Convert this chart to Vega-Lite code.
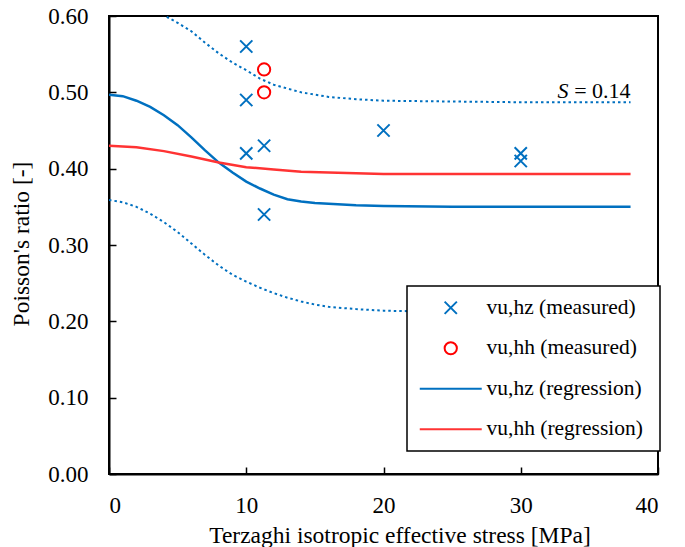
{
  "$schema": "https://vega.github.io/schema/vega-lite/v6.json",
  "width": 549,
  "height": 458,
  "autosize": {"type": "none"},
  "padding": {"left": 109, "top": 16, "right": 27, "bottom": 73},
  "background": "white",
  "config": {
    "view": {"stroke": "black", "strokeWidth": 2},
    "font": "Times New Roman, Liberation Serif, DejaVu Serif, serif",
    "axis": {
      "labelFont": "Times New Roman, Liberation Serif, DejaVu Serif, serif",
      "titleFont": "Times New Roman, Liberation Serif, DejaVu Serif, serif",
      "labelColor": "black",
      "titleColor": "black",
      "labelFontSize": 23,
      "titleFontSize": 23.5,
      "titleFontWeight": "normal",
      "domainColor": "black",
      "domainWidth": 2,
      "tickColor": "black",
      "tickWidth": 1.5,
      "tickSize": -7,
      "grid": false
    },
    "legend": {
      "orient": "none",
      "legendX": 298,
      "legendY": 270,
      "fillColor": "white",
      "strokeColor": "black",
      "strokeWidth": 1.5,
      "padding": 11,
      "rowPadding": 17.5,
      "labelFont": "Times New Roman, Liberation Serif, DejaVu Serif, serif",
      "labelFontSize": 21.5,
      "labelColor": "black",
      "labelLimit": 400,
      "symbolSize": 150,
      "symbolStrokeWidth": 2,
      "symbolOffset": 22,
      "labelOffset": 25
    }
  },
  "datasets": {
    "points": [
      {"x": 10.0, "y": 0.56, "series": "vu,hz (measured)"},
      {"x": 10.0, "y": 0.49, "series": "vu,hz (measured)"},
      {"x": 10.0, "y": 0.42, "series": "vu,hz (measured)"},
      {"x": 11.3, "y": 0.43, "series": "vu,hz (measured)"},
      {"x": 11.3, "y": 0.34, "series": "vu,hz (measured)"},
      {"x": 20.0, "y": 0.45, "series": "vu,hz (measured)"},
      {"x": 30.0, "y": 0.42, "series": "vu,hz (measured)"},
      {"x": 30.0, "y": 0.41, "series": "vu,hz (measured)"},
      {"x": 11.3, "y": 0.53, "series": "vu,hh  (measured)"},
      {"x": 11.3, "y": 0.50, "series": "vu,hh  (measured)"}
    ],
    "regression": [
      {"x": 0, "y": 0.497, "series": "vu,hz  (regression)"},
      {"x": 1, "y": 0.495, "series": "vu,hz  (regression)"},
      {"x": 2, "y": 0.489, "series": "vu,hz  (regression)"},
      {"x": 3, "y": 0.481, "series": "vu,hz  (regression)"},
      {"x": 4, "y": 0.470, "series": "vu,hz  (regression)"},
      {"x": 5, "y": 0.457, "series": "vu,hz  (regression)"},
      {"x": 6, "y": 0.441, "series": "vu,hz  (regression)"},
      {"x": 7, "y": 0.424, "series": "vu,hz  (regression)"},
      {"x": 8, "y": 0.408, "series": "vu,hz  (regression)"},
      {"x": 9, "y": 0.395, "series": "vu,hz  (regression)"},
      {"x": 10, "y": 0.383, "series": "vu,hz  (regression)"},
      {"x": 11, "y": 0.374, "series": "vu,hz  (regression)"},
      {"x": 12, "y": 0.366, "series": "vu,hz  (regression)"},
      {"x": 13, "y": 0.360, "series": "vu,hz  (regression)"},
      {"x": 14, "y": 0.357, "series": "vu,hz  (regression)"},
      {"x": 15, "y": 0.355, "series": "vu,hz  (regression)"},
      {"x": 16, "y": 0.354, "series": "vu,hz  (regression)"},
      {"x": 18, "y": 0.352, "series": "vu,hz  (regression)"},
      {"x": 20, "y": 0.351, "series": "vu,hz  (regression)"},
      {"x": 25, "y": 0.350, "series": "vu,hz  (regression)"},
      {"x": 30, "y": 0.350, "series": "vu,hz  (regression)"},
      {"x": 38, "y": 0.350, "series": "vu,hz  (regression)"},
      {"x": 0, "y": 0.430, "series": "vu,hh  (regression)"},
      {"x": 2, "y": 0.428, "series": "vu,hh  (regression)"},
      {"x": 4, "y": 0.423, "series": "vu,hh  (regression)"},
      {"x": 6, "y": 0.416, "series": "vu,hh  (regression)"},
      {"x": 8, "y": 0.408, "series": "vu,hh  (regression)"},
      {"x": 10, "y": 0.402, "series": "vu,hh  (regression)"},
      {"x": 12, "y": 0.399, "series": "vu,hh  (regression)"},
      {"x": 14, "y": 0.396, "series": "vu,hh  (regression)"},
      {"x": 16, "y": 0.395, "series": "vu,hh  (regression)"},
      {"x": 18, "y": 0.394, "series": "vu,hh  (regression)"},
      {"x": 20, "y": 0.393, "series": "vu,hh  (regression)"},
      {"x": 25, "y": 0.393, "series": "vu,hh  (regression)"},
      {"x": 38, "y": 0.393, "series": "vu,hh  (regression)"}
    ],
    "bands": [
      {"x": 0, "y": 0.637, "band": "upper"},
      {"x": 2, "y": 0.628, "band": "upper"},
      {"x": 3, "y": 0.617, "band": "upper"},
      {"x": 4, "y": 0.601, "band": "upper"},
      {"x": 5, "y": 0.591, "band": "upper"},
      {"x": 6, "y": 0.580, "band": "upper"},
      {"x": 7, "y": 0.565, "band": "upper"},
      {"x": 8, "y": 0.551, "band": "upper"},
      {"x": 9, "y": 0.539, "band": "upper"},
      {"x": 10, "y": 0.529, "band": "upper"},
      {"x": 11, "y": 0.518, "band": "upper"},
      {"x": 12, "y": 0.510, "band": "upper"},
      {"x": 13, "y": 0.505, "band": "upper"},
      {"x": 14, "y": 0.500, "band": "upper"},
      {"x": 15, "y": 0.497, "band": "upper"},
      {"x": 16, "y": 0.494, "band": "upper"},
      {"x": 18, "y": 0.491, "band": "upper"},
      {"x": 20, "y": 0.489, "band": "upper"},
      {"x": 25, "y": 0.488, "band": "upper"},
      {"x": 30, "y": 0.487, "band": "upper"},
      {"x": 38, "y": 0.487, "band": "upper"},
      {"x": 0, "y": 0.359, "band": "lower"},
      {"x": 1, "y": 0.356, "band": "lower"},
      {"x": 2, "y": 0.350, "band": "lower"},
      {"x": 3, "y": 0.341, "band": "lower"},
      {"x": 4, "y": 0.330, "band": "lower"},
      {"x": 5, "y": 0.317, "band": "lower"},
      {"x": 6, "y": 0.302, "band": "lower"},
      {"x": 7, "y": 0.287, "band": "lower"},
      {"x": 8, "y": 0.273, "band": "lower"},
      {"x": 9, "y": 0.261, "band": "lower"},
      {"x": 10, "y": 0.252, "band": "lower"},
      {"x": 11, "y": 0.244, "band": "lower"},
      {"x": 12, "y": 0.237, "band": "lower"},
      {"x": 13, "y": 0.231, "band": "lower"},
      {"x": 14, "y": 0.226, "band": "lower"},
      {"x": 15, "y": 0.222, "band": "lower"},
      {"x": 16, "y": 0.219, "band": "lower"},
      {"x": 18, "y": 0.216, "band": "lower"},
      {"x": 20, "y": 0.214, "band": "lower"},
      {"x": 25, "y": 0.212, "band": "lower"},
      {"x": 30, "y": 0.211, "band": "lower"},
      {"x": 38, "y": 0.210, "band": "lower"}
    ],
    "note": [
      {"x": 38, "y": 0.4926, "sym": "S", "rest": "= 0.14"}
    ]
  },
  "encoding": {
    "x": {
      "field": "x",
      "type": "quantitative",
      "scale": {"domain": [0, 40], "nice": false},
      "axis": {
        "values": [0, 10, 20, 30, 40],
        "title": "Terzaghi isotropic effective stress [MPa]",
        "labelPadding": 27,
        "titleX": 290.5,
        "titleY": 68,
        "titleBaseline": "alphabetic",
        "titleAlign": "center"
      }
    },
    "y": {
      "field": "y",
      "type": "quantitative",
      "scale": {"domain": [0, 0.6], "nice": false},
      "axis": {
        "values": [0, 0.1, 0.2, 0.3, 0.4, 0.5, 0.6],
        "format": ".2f",
        "title": "Poisson's ratio [-]",
        "labelPadding": 28,
        "titleX": -80.5,
        "titleY": 227.5,
        "titleAngle": -90,
        "titleBaseline": "alphabetic",
        "titleAlign": "center"
      }
    }
  },
  "layer": [
    {
      "data": {"name": "bands"},
      "mark": {"type": "line", "strokeWidth": 2, "strokeDash": [2.5, 3], "color": "#0070C0", "clip": true},
      "encoding": {"detail": {"field": "band", "type": "nominal"}}
    },
    {
      "data": {"name": "points"},
      "mark": {"type": "point", "filled": false, "strokeWidth": 2, "size": 150, "opacity": 1},
      "encoding": {
        "color": {
          "field": "series",
          "type": "nominal",
          "scale": {
            "domain": ["vu,hz (measured)", "vu,hh  (measured)", "vu,hz  (regression)", "vu,hh  (regression)"],
            "range": ["#0070C0", "#FF0000", "#0070C0", "#FF3333"]
          },
          "legend": {"title": null}
        },
        "shape": {
          "field": "series",
          "type": "nominal",
          "scale": {
            "domain": ["vu,hz (measured)", "vu,hh  (measured)", "vu,hz  (regression)", "vu,hh  (regression)"],
            "range": ["M-1,-1L1,1M-1,1L1,-1", "circle", "M-5.06,0L5.06,0", "M-5.06,0L5.06,0"]
          },
          "legend": {"title": null}
        }
      }
    },
    {
      "data": {"name": "regression"},
      "mark": {"type": "line", "strokeWidth": 2.5, "clip": true},
      "encoding": {
        "color": {
          "field": "series",
          "type": "nominal",
          "scale": {
            "domain": ["vu,hz (measured)", "vu,hh  (measured)", "vu,hz  (regression)", "vu,hh  (regression)"],
            "range": ["#0070C0", "#FF0000", "#0070C0", "#FF3333"]
          },
          "legend": {"title": null}
        }
      }
    },
    {
      "data": {"name": "note"},
      "mark": {"type": "text", "align": "right", "baseline": "alphabetic", "font": "Times New Roman, Liberation Serif, DejaVu Serif, serif", "fontSize": 22, "color": "black"},
      "encoding": {"text": {"field": "rest", "type": "nominal"}}
    },
    {
      "data": {"name": "note"},
      "mark": {"type": "text", "align": "right", "baseline": "alphabetic", "font": "Times New Roman, Liberation Serif, DejaVu Serif, serif", "fontSize": 22, "fontStyle": "italic", "color": "black", "dx": -62},
      "encoding": {"text": {"field": "sym", "type": "nominal"}}
    }
  ]
}
